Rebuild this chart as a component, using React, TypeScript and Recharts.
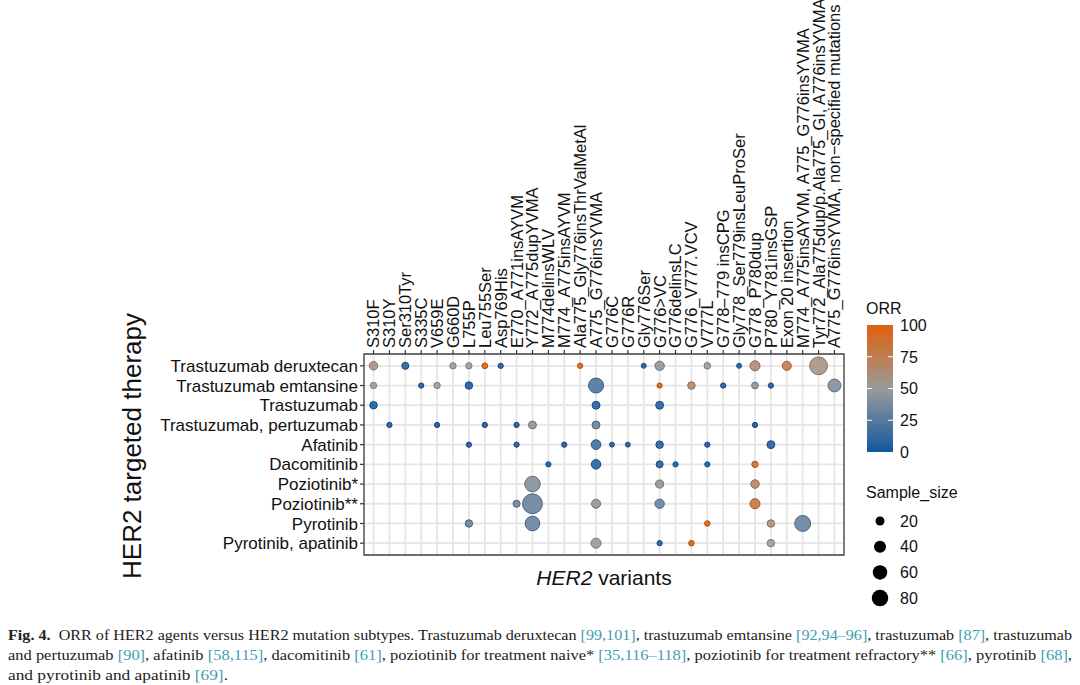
import {
  CartesianGrid,
  Cell,
  ReferenceArea,
  Scatter,
  ScatterChart,
  XAxis,
  YAxis,
  ZAxis,
} from "recharts";

const variants = [
  "S310F",
  "S310Y",
  "Ser310Tyr",
  "S335C",
  "V659E",
  "G660D",
  "L755P",
  "Leu755Ser",
  "Asp769His",
  "E770_A771insAYVM",
  "Y772_A775dupYVMA",
  "M774delinsWLV",
  "M774_A775insAYVM",
  "Ala775_Gly776insThrValMetAl",
  "A775_G776insYVMA",
  "G776C",
  "G776R",
  "Gly776Ser",
  "G776>VC",
  "G776delinsLC",
  "G776_V777.VCV",
  "V777L",
  "G778–779 insCPG",
  "Gly778_Ser779insLeuProSer",
  "G778_P780dup",
  "P780_Y781insGSP",
  "Exon 20 insertion",
  "M774_A775insAYVM, A775_G776insYVMA",
  "Tyr772_Ala775dup/p.Ala775_GI, A776insYVMA",
  "A775_G776insYVMA, non−specified mutations",
];

const therapies = [
  "Trastuzumab deruxtecan",
  "Trastuzumab emtansine",
  "Trastuzumab",
  "Trastuzumab, pertuzumab",
  "Afatinib",
  "Dacomitinib",
  "Poziotinib*",
  "Poziotinib**",
  "Pyrotinib",
  "Pyrotinib, apatinib",
];

// each entry: [variant index, sample size, ORR %]
const deruxtecan = [
  [0, 17, 60], [2, 10, 3], [5, 7, 50], [6, 7, 50], [7, 5, 100], [8, 3, 0],
  [13, 3, 100], [17, 2, 0], [18, 22, 45], [21, 8, 50], [23, 2, 0],
  [24, 26, 65], [26, 20, 80], [28, 94, 58],
];
const emtansine = [
  [0, 7, 50], [3, 3, 0], [4, 7, 50], [6, 12, 0], [14, 65, 20], [18, 3, 100],
  [20, 12, 70], [22, 3, 0], [24, 9, 45], [25, 3, 0], [29, 46, 40],
];
const trastuzumab = [[0, 12, 0], [14, 14, 5], [18, 14, 5]];
const trastPertuzumab = [
  [1, 3, 0], [4, 3, 0], [7, 3, 0], [9, 3, 0], [10, 14, 45], [14, 14, 30],
  [24, 3, 0],
];
const afatinib = [
  [6, 3, 0], [9, 3, 0], [12, 3, 0], [14, 24, 15], [15, 2, 0], [16, 2, 0],
  [18, 12, 5], [21, 3, 0], [25, 14, 5],
];
const dacomitinib = [
  [11, 3, 0], [14, 23, 5], [18, 10, 5], [19, 3, 0], [21, 3, 0], [24, 7, 90],
];
const poziotinibNaive = [[10, 70, 40], [18, 15, 45], [24, 17, 70]];
const poziotinibRefractory = [
  [9, 10, 30], [10, 118, 30], [14, 20, 45], [18, 22, 30], [24, 26, 85],
];
const pyrotinib = [[6, 12, 30], [10, 62, 30], [21, 4, 100], [25, 12, 60], [27, 74, 30]];
const pyrotinibApatinib = [[14, 26, 48], [18, 3, 0], [20, 4, 100], [25, 12, 50]];

const rows = [
  deruxtecan,
  emtansine,
  trastuzumab,
  trastPertuzumab,
  afatinib,
  dacomitinib,
  poziotinibNaive,
  poziotinibRefractory,
  pyrotinib,
  pyrotinibApatinib,
];

const orrTicks = [0, 25, 50, 75, 100];
const sizeLegend = [20, 40, 60, 80];

const points = rows.flatMap((row, r) =>
  row.map(([c, n, orr]) => ({ x: c, y: r, z: n, orr }))
);

const SIZE_DOMAIN = [0, 120];
const SIZE_RANGE = [14, 314];
const areaOf = (v) =>
  SIZE_RANGE[0] +
  ((SIZE_RANGE[1] - SIZE_RANGE[0]) * (v - SIZE_DOMAIN[0])) /
    (SIZE_DOMAIN[1] - SIZE_DOMAIN[0]);

const LOW = [20, 88, 160];
const MID = [154, 154, 154];
const HIGH = [224, 96, 12];
const mix = (a, b, t) => a.map((v, i) => Math.round(v + (b[i] - v) * t));
const orrColor = (orr, dark = 0) => {
  const c = orr < 50 ? mix(LOW, MID, orr / 50) : mix(MID, HIGH, (orr - 50) / 50);
  const d = c.map((v) => Math.round(v * (1 - dark)));
  return `rgb(${d[0]},${d[1]},${d[2]})`;
};

const SANS = "Liberation Sans, Arial, Helvetica, sans-serif";
const SERIF = "Liberation Serif, Times New Roman, serif";
const CITE = "#3f9db3";

const VariantTick = ({ x, y, payload }) => (
  <text
    transform={`translate(${x},${y}) rotate(-90)`}
    textAnchor="start"
    dy="0.36em"
    fontSize={16.5}
    fontFamily={SANS}
    fill="#111"
  >
    {variants[payload.value]}
  </text>
);

const TherapyTick = ({ x, y, payload }) => (
  <text
    x={x}
    y={y}
    textAnchor="end"
    dy="0.36em"
    fontSize={17}
    fontFamily={SANS}
    fill="#111"
  >
    {therapies[payload.value]}
  </text>
);

const captionLines = [
  [
    ["Fig. 4.", "b"],
    ["  ORR of HER2 agents versus HER2 mutation subtypes. Trastuzumab deruxtecan "],
    ["[99,101]", "c"],
    [", trastuzumab emtansine "],
    ["[92,94–96]", "c"],
    [", trastuzumab "],
    ["[87]", "c"],
    [", trastuzumab"],
  ],
  [
    ["and pertuzumab "],
    ["[90]", "c"],
    [", afatinib "],
    ["[58,115]", "c"],
    [", dacomitinib "],
    ["[61]", "c"],
    [", poziotinib for treatment naive* "],
    ["[35,116–118]", "c"],
    [", poziotinib for treatment refractory** "],
    ["[66]", "c"],
    [", pyrotinib "],
    ["[68]", "c"],
    [","],
  ],
  [["and pyrotinib and apatinib "], ["[69]", "c"], ["."]],
];
const captionWidths = [1064, 1064, 220];

export default function App() {
  const barTop = 325;
  const barH = 127;
  return (
    <div
      style={{
        position: "absolute",
        left: 0,
        top: 0,
        width: 1080,
        height: 685,
        background: "#fff",
        overflow: "hidden",
      }}
    >
      <ScatterChart
        width={1080}
        height={610}
        margin={{ top: 0, right: 236, bottom: 55, left: 0 }}
      >
        <CartesianGrid stroke="#e6e6e6" strokeWidth={1.8} />
        <XAxis
          type="number"
          dataKey="x"
          orientation="top"
          domain={[-0.6, 29.6]}
          ticks={variants.map((_, i) => i)}
          interval={0}
          height={354}
          tickSize={4}
          tickMargin={2}
          axisLine={false}
          tickLine={{ stroke: "#333", strokeWidth: 1.2 }}
          tick={<VariantTick />}
          allowDataOverflow
        />
        <YAxis
          type="number"
          dataKey="y"
          domain={[-0.6, 9.6]}
          reversed
          ticks={therapies.map((_, i) => i)}
          interval={0}
          width={364}
          tickSize={4}
          tickMargin={2}
          axisLine={false}
          tickLine={{ stroke: "#333", strokeWidth: 1.2 }}
          tick={<TherapyTick />}
          allowDataOverflow
        />
        <ZAxis type="number" dataKey="z" domain={SIZE_DOMAIN} range={SIZE_RANGE} />
        <ReferenceArea
          x1={-0.6}
          x2={29.6}
          y1={-0.6}
          y2={9.6}
          fill="none"
          stroke="#444"
          strokeWidth={1.3}
        />
        <Scatter data={points} isAnimationActive={false}>
          {points.map((p, i) => (
            <Cell
              key={i}
              fill={orrColor(p.orr)}
              fillOpacity={0.88}
              stroke={orrColor(p.orr, 0.22)}
              strokeWidth={1}
            />
          ))}
        </Scatter>
      </ScatterChart>

      <svg
        width={1080}
        height={685}
        style={{ position: "absolute", left: 0, top: 0, pointerEvents: "none" }}
      >
        <defs>
          <linearGradient id="orrGrad" x1="0" y1="1" x2="0" y2="0">
            <stop offset="0%" stopColor={orrColor(0)} />
            <stop offset="50%" stopColor={orrColor(50)} />
            <stop offset="100%" stopColor={orrColor(100)} />
          </linearGradient>
        </defs>

        {/* axis titles */}
        <text
          transform="translate(141,446) rotate(-90)"
          textAnchor="middle"
          fontSize={26}
          fontFamily={SANS}
          fill="#111"
        >
          HER2 targeted therapy
        </text>
        <text
          x={604}
          y={585}
          textAnchor="middle"
          fontSize={21}
          fontFamily={SANS}
          fill="#111"
        >
          <tspan fontStyle="italic">HER2</tspan> variants
        </text>

        {/* colour legend */}
        <text x={866} y={314} fontSize={16} fontFamily={SANS} fill="#111">
          ORR
        </text>
        <rect x={867} y={barTop} width={26} height={barH} fill="url(#orrGrad)" />
        {orrTicks.map((t) => {
          const yy = barTop + barH - (t / 100) * barH;
          return (
            <g key={t}>
              {t > 0 && t < 100 && (
                <>
                  <line x1={867} x2={872} y1={yy} y2={yy} stroke="#fff" strokeWidth={1} />
                  <line x1={888} x2={893} y1={yy} y2={yy} stroke="#fff" strokeWidth={1} />
                </>
              )}
              <text
                x={900}
                y={yy}
                dy="0.36em"
                fontSize={16}
                fontFamily={SANS}
                fill="#111"
              >
                {t}
              </text>
            </g>
          );
        })}

        {/* size legend */}
        <text x={866} y={498} fontSize={16} fontFamily={SANS} fill="#111">
          Sample_size
        </text>
        {sizeLegend.map((v, i) => {
          const yy = 521 + i * 25.7;
          return (
            <g key={v}>
              <circle cx={880} cy={yy} r={Math.sqrt(areaOf(v) / Math.PI)} fill="#000" />
              <text
                x={900}
                y={yy}
                dy="0.36em"
                fontSize={16}
                fontFamily={SANS}
                fill="#111"
              >
                {v}
              </text>
            </g>
          );
        })}

        {/* caption */}
        {captionLines.map((line, li) => (
          <text
            key={li}
            x={8}
            y={640 + li * 20}
            fontSize={15}
            fontFamily={SERIF}
            fill="#222"
            textLength={captionWidths[li]}
            lengthAdjust="spacingAndGlyphs"
            style={{ whiteSpace: "pre" }}
          >
            {line.map(([t, k], si) => (
              <tspan
                key={si}
                fill={k === "c" ? CITE : undefined}
                fontWeight={k === "b" ? "bold" : undefined}
              >
                {t}
              </tspan>
            ))}
          </text>
        ))}
      </svg>
    </div>
  );
}
